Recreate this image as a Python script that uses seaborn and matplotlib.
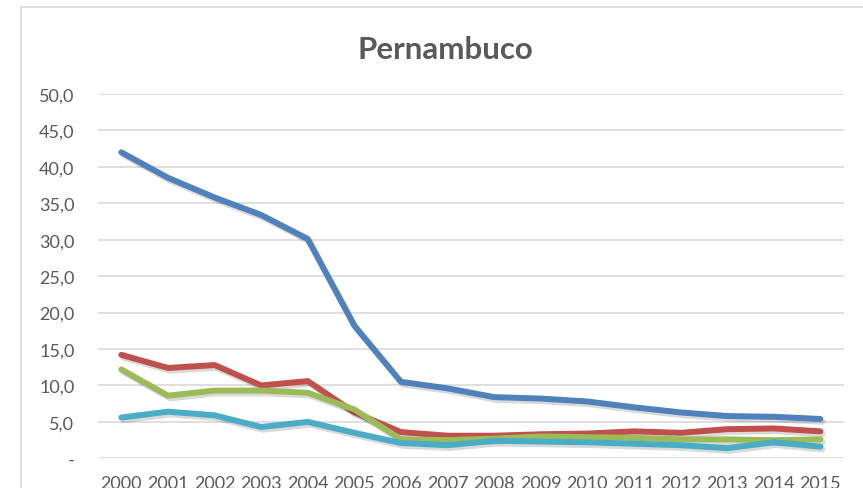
import numpy as np
import pandas as pd
import seaborn as sns
import matplotlib.pyplot as plt
import matplotlib.patheffects as pe
from matplotlib.patches import Rectangle

years = list(range(2000, 2016))
serie_1 = [42.0, 38.5, 35.8, 33.4, 30.1, 18.2, 10.5, 9.6, 8.4, 8.2, 7.8, 7.0, 6.3, 5.8, 5.7, 5.4]
serie_2 = [14.2, 12.4, 12.8, 10.0, 10.6, 6.3, 3.6, 3.1, 3.1, 3.3, 3.4, 3.7, 3.5, 4.0, 4.1, 3.7]
serie_3 = [12.2, 8.6, 9.3, 9.3, 9.0, 6.7, 2.6, 2.5, 2.7, 3.0, 2.9, 2.8, 2.6, 2.6, 2.5, 2.6]
serie_4 = [5.6, 6.4, 5.9, 4.3, 5.0, 3.5, 2.1, 1.8, 2.4, 2.3, 2.2, 2.0, 1.8, 1.4, 2.2, 1.6]
series_names = ["Série 1", "Série 2", "Série 3", "Série 4"]
colors = ["#4F81BD", "#C0504D", "#9BBB59", "#4BACC6"]
y_ticks = [0, 5, 10, 15, 20, 25, 30, 35, 40, 45, 50]

df = pd.DataFrame({"ano": years * 4,
                   "valor": serie_1 + serie_2 + serie_3 + serie_4,
                   "serie": np.repeat(series_names, len(years))})

sns.set_style("white")
plt.rcParams["font.family"] = ["Lato", "DejaVu Sans"]

fig = plt.figure(figsize=(8.63, 4.89), dpi=100)
ax = fig.add_axes([0.1136, 0.0607, 0.864, 0.745])

# chart frame (cut off at right/bottom like the reference)
fig.patches.append(Rectangle((21 / 863, -0.1), 1.2, 1.1 - 8 / 489, transform=fig.transFigure,
                             fill=False, edgecolor="#D9D9D9", lw=1.2, zorder=0))

sns.lineplot(data=df, x="ano", y="valor", hue="serie", palette=colors, lw=4.3,
             legend=False, ax=ax)
for line in ax.lines:
    line.set_solid_capstyle("round")
    line.set_solid_joinstyle("round")
    line.set_path_effects([pe.SimpleLineShadow(offset=(1.5, -2), alpha=0.15, shadow_color="black"),
                           pe.Normal()])

ax.set_xlim(1999.5, 2015.5)
ax.set_ylim(0, 50)
ax.set_yticks(y_ticks)
ax.set_yticklabels(["-" if v == 0 else f"{v:.1f}".replace(".", ",") for v in y_ticks])
ax.set_xticks(years)
ax.set_xticklabels([str(y) for y in years])
ax.tick_params(axis="both", length=0, labelsize=13, colors="#595959")
ax.tick_params(axis="x", pad=12)
ax.tick_params(axis="y", pad=17)
ax.yaxis.grid(True, color="#D9D9D9", lw=1.2)
ax.set_axisbelow(True)
for s in ax.spines.values():
    s.set_visible(False)
ax.set_xlabel("")
ax.set_ylabel("")

fig.text(0.516, 0.898, "Pernambuco", ha="center", va="center", fontsize=22.5,
         fontweight="bold", color="#595959")

fig.savefig("out.png", dpi=100)
